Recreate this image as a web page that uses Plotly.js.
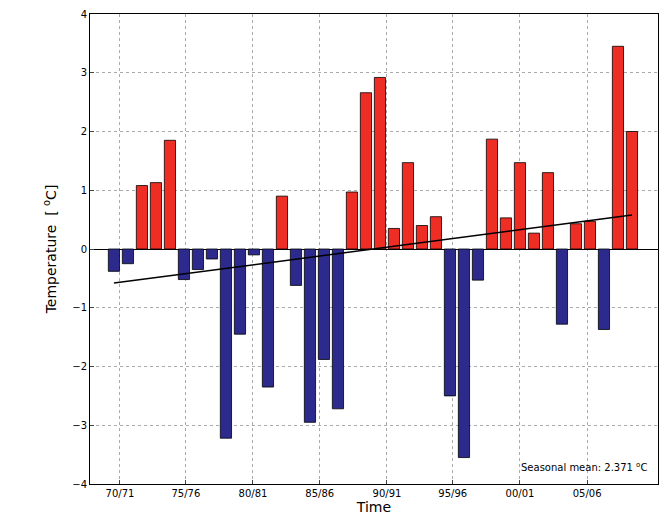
<!DOCTYPE html>
<html>
<head>
<script src="https://cdn.plot.ly/plotly-3.0.1.min.js"></script>
<style>body{margin:0}</style>
</head>
<body>
<div id="chart" style="width:670px;height:516px"></div>
<script>
// seasonal temperature anomalies, 1970/71 .. 2007/08
const anomalies = [-0.38, -0.25, 1.08, 1.13, 1.85, -0.52, -0.35, -0.17, -3.22, -1.45,
  -0.1, -2.35, 0.9, -0.62, -2.95, -1.88, -2.72, 0.97, 2.66, 2.92,
  0.35, 1.47, 0.4, 0.55, -2.5, -3.55, -0.53, 1.87, 0.53, 1.47,
  0.27, 1.3, -1.28, 0.43, 0.47, -1.37, 3.45, 2.0];
const seasonIndex = anomalies.map((v, i) => i);
const trendX = [0, 37];
const trendY = [-0.58, 0.58];
const tickPos = [0.43, 5.14, 9.93, 14.7, 19.5, 24.2, 29.0, 33.8];
const tickLabels = ["70/71", "75/76", "80/81", "85/86", "90/91", "95/96", "00/01", "05/06"];

var bars = {
  x: seasonIndex,
  y: anomalies,
  type: "bar",
  width: 0.8,
  marker: {
    color: anomalies.map((v) => (v >= 0 ? "#ee2e24" : "#2c2a8c")),
    line: { color: "black", width: 0.8 },
  },
};
var trend = {
  x: trendX,
  y: trendY,
  type: "scatter",
  mode: "lines",
  line: { color: "black", width: 1.5 },
};

var layout = {
  font: { family: "DejaVu Sans, sans-serif", size: 10, color: "black" },
  showlegend: false,
  plot_bgcolor: "white",
  paper_bgcolor: "white",
  margin: { l: 90, r: 12, t: 14, b: 32 },
  xaxis: {
    range: [-1.71, 38.86],
    tickvals: tickPos,
    ticktext: tickLabels,
    showgrid: true,
    gridcolor: "#aaa",
    griddash: "dot",
    zeroline: false,
    showline: true,
    linecolor: "black",
    mirror: true,
    ticks: "inside",
    ticklen: 4,
    title: { text: "Time", font: { size: 14 }, standoff: 2 },
  },
  yaxis: {
    range: [-4, 4],
    tickvals: [-4, -3, -2, -1, 0, 1, 2, 3, 4],
    ticktext: ["−4", "−3", "−2", "−1", "0", "1", "2", "3", "4"],
    showgrid: true,
    gridcolor: "#aaa",
    griddash: "dot",
    zeroline: true,
    zerolinecolor: "black",
    zerolinewidth: 1,
    showline: true,
    linecolor: "black",
    mirror: true,
    ticks: "inside",
    ticklen: 4,
    title: { text: "Temperature  [ <sup>o</sup>C]", font: { size: 14 }, standoff: 12 },
  },
  annotations: [
    {
      xref: "paper", yref: "paper", x: 0.985, y: 0.02,
      xanchor: "right", yanchor: "bottom",
      text: "Seasonal mean: 2.371 <sup>o</sup>C",
      showarrow: false,
      font: { size: 10 },
    },
  ],
};

Plotly.newPlot("chart", [bars, trend], layout, { displayModeBar: false });
</script>
</body>
</html>
